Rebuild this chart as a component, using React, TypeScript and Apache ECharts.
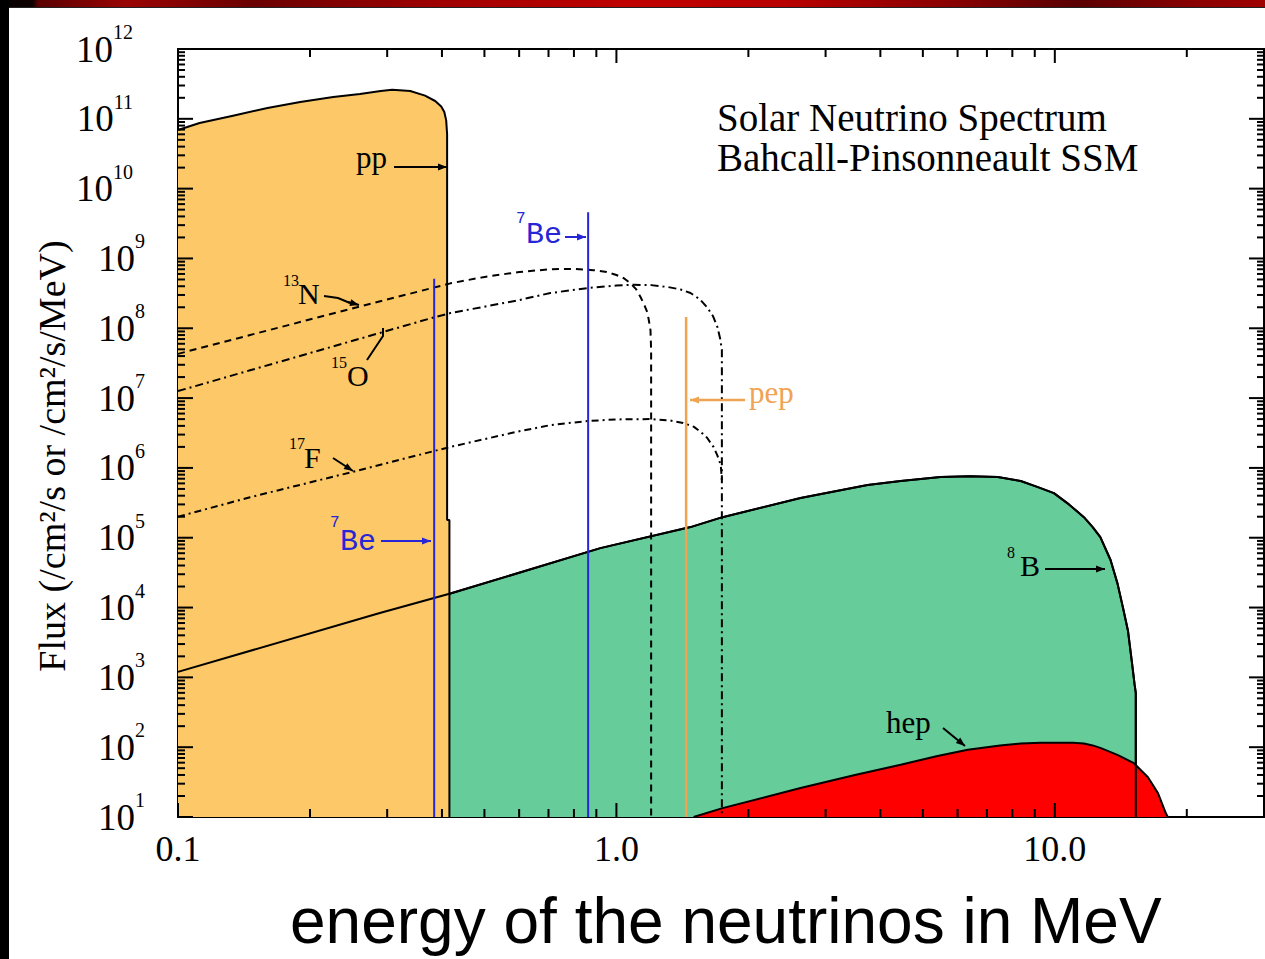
import React, { useEffect, useRef } from 'react';
import * as echarts from 'echarts';

const SERIF = "'Liberation Serif', 'Times New Roman', serif";
const SANS = "'Liberation Sans', Arial, sans-serif";
const MONO = "'Liberation Mono', 'Courier New', monospace";

const X_MIN = 0.1;
const X_MAX = 30;
const Y_MIN = 10;
const Y_MAX = 1e12;

// [energy MeV, flux]
const ppSpectrum: number[][] = [
  [0.1, 6.9e10], [0.112, 8.7e10], [0.1335, 1.11e11], [0.16, 1.43e11], [0.19, 1.74e11],
  [0.226, 2.05e11], [0.26, 2.26e11], [0.29, 2.5e11], [0.308, 2.6e11], [0.3386, 2.5e11],
  [0.366, 2.15e11], [0.386, 1.8e11], [0.3985, 1.5e11], [0.405, 1.25e11], [0.409, 9.5e10],
  [0.411, 6e10], [0.411, 1.8e5], [0.416, 1.8e5], [0.416, 10],
];
const b8Spectrum: number[][] = [
  [0.1, 1.2e3], [0.286, 8.2e3], [0.42, 1.6e4], [0.919, 7.1e4], [1.476, 1.42e5],
  [1.746, 1.97e5], [2.63, 3.7e5], [3.74, 5.7e5], [4.45, 6.5e5], [5.49, 7.4e5],
  [6.4, 7.6e5], [7.41, 7.4e5], [8.36, 6.5e5], [9.15, 5.3e5], [9.95, 4.35e5],
  [10.77, 3.0e5], [11.65, 1.97e5], [12.2, 1.42e5], [12.7, 1.02e5], [13.4, 4.8e4],
  [13.9, 2.2e4], [14.3, 1.0e4], [14.68, 4.7e3], [15.0, 1.6e3], [15.2, 8e2],
  [15.3, 6e2], [15.3, 10],
];
const hepSpectrum: number[][] = [
  [1.5, 10], [1.746, 13.4], [2.63, 26], [3.5, 40], [4.45, 56], [5.4, 75], [6.33, 92],
  [7.5, 106], [8.36, 113], [9.3, 116], [11.0, 116], [11.65, 113], [12.2, 106],
  [12.74, 97], [13.93, 77], [15.15, 59], [16.31, 37], [17.19, 22], [17.92, 11.3], [18.1, 10],
];
const n13Spectrum: number[][] = [
  [0.1, 4.3e7], [0.146, 8e7], [0.26, 2.05e8], [0.418, 4.4e8], [0.497, 5.4e8],
  [0.6, 6.4e8], [0.707, 7e8], [0.8, 7.1e8], [0.886, 6.8e8], [0.95, 6.4e8],
  [1.0, 5.8e8], [1.04, 5.2e8], [1.077, 4.4e8], [1.11, 3.6e8], [1.135, 2.8e8],
  [1.16, 2.1e8], [1.178, 1.65e8], [1.196, 9.4e7], [1.2, 4.9e7], [1.2, 10],
];
const o15Spectrum: number[][] = [
  [0.1, 1.26e7], [0.146, 2.5e7], [0.386, 1.45e8], [0.418, 1.65e8], [0.594, 2.5e8],
  [0.707, 3.2e8], [0.872, 3.8e8], [1.0, 4.1e8], [1.094, 4.2e8], [1.2, 4.15e8],
  [1.31, 3.9e8], [1.4, 3.6e8], [1.476, 3.2e8], [1.55, 2.6e8], [1.61, 2.0e8],
  [1.66, 1.5e8], [1.7, 1.04e8], [1.725, 7e7], [1.74, 4.9e7], [1.74, 10],
];
const f17Spectrum: number[][] = [
  [0.1, 2.0e5], [0.146, 3.8e5], [0.247, 8.6e5], [0.418, 2.0e6], [0.594, 3.3e6],
  [0.707, 4.1e6], [0.859, 4.7e6], [1.0, 4.95e6], [1.196, 5.0e6], [1.32, 4.8e6],
  [1.42, 4.4e6], [1.5, 3.9e6], [1.555, 3.3e6], [1.61, 2.7e6], [1.665, 2.0e6],
  [1.7, 1.5e6], [1.73, 1.1e6], [1.74, 6.7e5],
];
const be7LineLow: number[][] = [[0.384, 10], [0.384, 5.1e8]];
const be7LineHigh: number[][] = [[0.862, 10], [0.862, 4.6e9]];
const pepLine: number[][] = [[1.442, 10], [1.442, 1.45e8]];

const xMajorValues = [0.1, 1, 10];
const xTickLabels = ['0.1', '1.0', '10.0'];

const COLORS = {
  pp: '#FDC867',
  b8: '#66CC99',
  hep: '#FF0000',
  be7: '#2626D6',
  pep: '#F0A352',
};

function logTicks(min: number, max: number) {
  const out: number[][] = [];
  const e0 = Math.floor(Math.log10(min));
  const e1 = Math.ceil(Math.log10(max));
  for (let e = e0; e <= e1; e++) {
    for (let k = 1; k <= 9; k++) {
      const v = k * Math.pow(10, e);
      if (v >= min * 0.9999 && v <= max * 1.0001) out.push([v, k === 1 ? 1 : 0]);
    }
  }
  return out;
}

function arrow(x1: number, y1: number, x2: number, y2: number, color: string, head = true, w = 2) {
  const els: any[] = [
    { type: 'line', z: 100, silent: true, shape: { x1, y1, x2, y2 }, style: { stroke: color, lineWidth: w } },
  ];
  if (head) {
    const a = Math.atan2(y2 - y1, x2 - x1);
    const L = 9, W = 3.5;
    const bx = x2 - L * Math.cos(a), by = y2 - L * Math.sin(a);
    els.push({
      type: 'polygon', z: 100, silent: true,
      shape: { points: [[x2, y2], [bx + W * Math.sin(a), by - W * Math.cos(a)], [bx - W * Math.sin(a), by + W * Math.cos(a)]] },
      style: { fill: color },
    });
  }
  return els;
}

function txt(text: string, x: number, y: number, size: number, family: string, color = '#000', extra: any = {}) {
  return {
    type: 'text', z: 100, silent: true, x, y, ...extra,
    style: { text, fontSize: size, fontFamily: family, fill: color, align: 'left', verticalAlign: 'middle' },
  };
}

function areaSeries(name: string, data: number[][], color: string, z: number) {
  return {
    name, type: 'line', data, z, symbol: 'none', smooth: false, silent: true,
    lineStyle: { color: '#000', width: 2 },
    areaStyle: { color, opacity: 1, origin: 'start' },
  };
}

function lineSeries(name: string, data: number[][], color: string, width: number, type: any, z: number) {
  return {
    name, type: 'line', data, z, symbol: 'none', smooth: false, silent: true,
    lineStyle: { color, width, type },
  };
}

function buildOption() {
  const xTicks = logTicks(X_MIN, X_MAX).map(([v, m]) => [v, Y_MIN, m]);
  const yTicks = logTicks(Y_MIN, Y_MAX).map(([v, m]) => [X_MIN, v, m]);
  const tickStyle = { stroke: '#000', lineWidth: 2 };

  const graphics: any[] = [
    {
      type: 'rect', z: 200, silent: true, shape: { x: 0, y: 0, width: 1265, height: 7 },
      style: {
        fill: {
          type: 'linear', x: 0, y: 0, x2: 1, y2: 0,
          colorStops: [
            { offset: 0, color: '#050000' }, { offset: 0.026, color: '#100000' },
            { offset: 0.03, color: '#5a0000' }, { offset: 0.1, color: '#9a0404' },
            { offset: 0.2, color: '#6a0000' }, { offset: 0.35, color: '#a00000' },
            { offset: 0.5, color: '#c00000' }, { offset: 0.62, color: '#b80000' },
            { offset: 0.75, color: '#8a0000' }, { offset: 0.85, color: '#5a0000' },
            { offset: 0.95, color: '#8c0000' }, { offset: 1, color: '#a00000' },
          ],
        },
      },
    },
    { type: 'rect', z: 200, silent: true, shape: { x: 0, y: 0, width: 9, height: 959 }, style: { fill: '#000' } },
    { type: 'line', z: 200, silent: true, shape: { x1: 9, y1: 7.5, x2: 1265, y2: 7.5 }, style: { stroke: '#222', lineWidth: 1 } },
    // title
    txt('Solar Neutrino Spectrum', 717, 117, 39, SERIF),
    txt('Bahcall-Pinsonneault SSM', 717, 157, 39, SERIF),
    // axis titles
    {
      type: 'text', z: 100, silent: true, x: 52, y: 456, rotation: Math.PI / 2,
      style: { text: 'Flux (/cm²/s or /cm²/s/MeV)', fontSize: 38, fontFamily: SERIF, fill: '#000', align: 'center', verticalAlign: 'middle' },
    },
    txt('energy of the neutrinos in MeV', 290, 921, 64, SANS),
    // pp
    txt('pp', 356, 157, 31, SERIF),
    ...arrow(394, 167, 447, 167, '#000'),
    // 13N
    txt('13', 283, 280, 16, SERIF),
    txt('N', 298, 293, 30, SERIF),
    { type: 'polyline', z: 100, silent: true, shape: { points: [[324, 296], [338, 298], [350, 303]] }, style: { stroke: '#000', lineWidth: 2, fill: null } },
    ...arrow(348, 302, 359, 305, '#000'),
    // 15O
    txt('15', 331, 362, 16, SERIF),
    txt('O', 347, 375, 30, SERIF),
    { type: 'polyline', z: 100, silent: true, shape: { points: [[367, 360], [383, 336], [383, 328]] }, style: { stroke: '#000', lineWidth: 2, fill: null } },
    // 17F
    txt('17', 289, 443, 16, SERIF),
    txt('F', 304, 457, 30, SERIF),
    ...arrow(333, 458, 353, 471, '#000'),
    // 7Be (upper)
    txt('7', 516, 219, 16, MONO, COLORS.be7),
    txt('Be', 526, 235, 30, MONO, COLORS.be7),
    ...arrow(565, 237, 586, 237, COLORS.be7),
    // 7Be (lower)
    txt('7', 330, 523, 16, MONO, COLORS.be7),
    txt('Be', 340, 542, 30, MONO, COLORS.be7),
    ...arrow(381, 541, 431, 541, COLORS.be7),
    // pep
    txt('pep', 749, 392, 31, SERIF, COLORS.pep),
    ...arrow(745, 400, 690, 400, COLORS.pep, true, 2.5),
    // 8B
    txt('8', 1007, 552, 16, SERIF),
    txt('B', 1020, 565, 30, SERIF),
    ...arrow(1045, 569, 1105, 569, '#000'),
    // hep
    txt('hep', 886, 722, 31, SERIF),
    ...arrow(943, 728, 965, 746, '#000'),
  ];

  return {
    animation: false,
    backgroundColor: '#ffffff',
    grid: { left: 178, top: 49, width: 1086, height: 768, show: true, borderColor: '#000', borderWidth: 2, backgroundColor: '#fff' },
    xAxis: {
      type: 'log', logBase: 10, min: X_MIN, max: X_MAX, interval: 1,
      axisLine: { show: false }, axisTick: { show: false }, splitLine: { show: false },
      axisLabel: {
        margin: 14, fontFamily: SERIF, fontSize: 36, color: '#000', showMaxLabel: false,
        formatter: (v: number) => {
          const i = xMajorValues.findIndex((m) => Math.abs(Math.log10(v) - Math.log10(m)) < 1e-6);
          return i >= 0 ? xTickLabels[i] : '';
        },
      },
    },
    yAxis: {
      type: 'log', logBase: 10, min: Y_MIN, max: Y_MAX, interval: 1,
      axisLine: { show: false }, axisTick: { show: false }, splitLine: { show: false },
      axisLabel: {
        margin: 33,
        formatter: (v: number) => {
          const e = Math.round(Math.log10(v));
          return e >= 10 ? `{b|10}{w|${e}}` : `{b|10}{e|${e}}`;
        },
        rich: {
          b: { fontFamily: SERIF, fontSize: 37, lineHeight: 54, color: '#000' },
          e: { fontFamily: SERIF, fontSize: 20, lineHeight: 20, verticalAlign: 'top', color: '#000' },
          w: { fontFamily: SERIF, fontSize: 20, lineHeight: 20, verticalAlign: 'top', color: '#000', padding: [0, 12, 0, 0] },
        },
      },
    },
    graphic: graphics,
    series: [
      areaSeries('8B', b8Spectrum, COLORS.b8, 2),
      areaSeries('pp', ppSpectrum, COLORS.pp, 3),
      areaSeries('hep', hepSpectrum, COLORS.hep, 4),
      lineSeries('8B line', b8Spectrum, '#000', 2, 'solid', 5),
      lineSeries('13N', n13Spectrum, '#000', 2, [7, 5], 6),
      lineSeries('15O', o15Spectrum, '#000', 2, [8, 4, 2, 4], 6),
      lineSeries('17F', f17Spectrum, '#000', 2, [7, 4, 2, 4], 6),
      lineSeries('7Be 0.384', be7LineLow, COLORS.be7, 2, 'solid', 7),
      lineSeries('7Be 0.862', be7LineHigh, COLORS.be7, 2, 'solid', 7),
      lineSeries('pep', pepLine, COLORS.pep, 2.5, 'solid', 7),
      {
        type: 'custom', coordinateSystem: 'cartesian2d', silent: true, clip: false, z: 8,
        data: xTicks, encode: { x: 0, y: 1 },
        renderItem: (_p: any, api: any) => {
          const v = api.value(0);
          const major = api.value(2) === 1;
          const b = api.coord([v, Y_MIN]);
          const t = api.coord([v, Y_MAX]);
          const len = major ? 14 : 8;
          return {
            type: 'group',
            children: [
              { type: 'line', shape: { x1: b[0], y1: b[1], x2: b[0], y2: b[1] - len }, style: tickStyle },
              { type: 'line', shape: { x1: t[0], y1: t[1], x2: t[0], y2: t[1] + len }, style: tickStyle },
            ],
          };
        },
      },
      {
        type: 'custom', coordinateSystem: 'cartesian2d', silent: true, clip: false, z: 8,
        data: yTicks, encode: { x: 0, y: 1 },
        renderItem: (_p: any, api: any) => {
          const v = api.value(1);
          const major = api.value(2) === 1;
          const l = api.coord([X_MIN, v]);
          const r = api.coord([X_MAX, v]);
          const len = major ? 15 : 7;
          return {
            type: 'group',
            children: [
              { type: 'line', shape: { x1: l[0], y1: l[1], x2: l[0] + len, y2: l[1] }, style: tickStyle },
              { type: 'line', shape: { x1: r[0], y1: r[1], x2: r[0] - len, y2: r[1] }, style: tickStyle },
            ],
          };
        },
      },
    ],
  };
}

export default function App() {
  const ref = useRef<HTMLDivElement>(null);
  useEffect(() => {
    document.body.style.margin = '0';
    const chart = echarts.init(ref.current as HTMLDivElement, null, { renderer: 'svg' });
    chart.setOption(buildOption() as any);
    return () => chart.dispose();
  }, []);
  return <div ref={ref} style={{ width: 1265, height: 959 }} />;
}
